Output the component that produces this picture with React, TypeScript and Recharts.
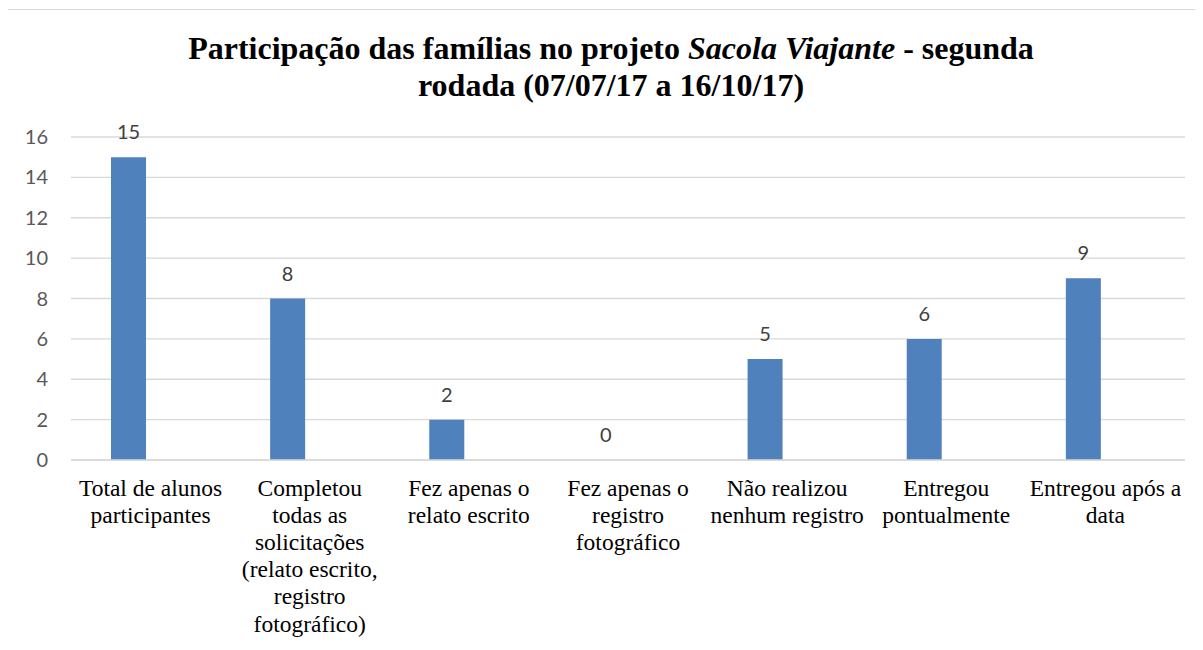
import { Bar, BarChart, CartesianGrid, LabelList, XAxis, YAxis } from "recharts"

// categorias (quebra de linha igual ao gráfico original)
const categories = [
  "Total de alunos participantes",
  "Completou todas as solicitações (relato escrito, registro fotográfico)",
  "Fez apenas o relato escrito",
  "Fez apenas o registro fotográfico",
  "Não realizou nenhum registro",
  "Entregou pontualmente",
  "Entregou após a data",
]

const categoryLines = [
  ["Total de alunos", "participantes"],
  ["Completou", "todas as", "solicitações", "(relato escrito,", "registro", "fotográfico)"],
  ["Fez apenas o", "relato escrito"],
  ["Fez apenas o", "registro", "fotográfico"],
  ["Não realizou", "nenhum registro"],
  ["Entregou", "pontualmente"],
  ["Entregou após a", "data"],
]

const values = [15, 8, 2, 0, 5, 6, 9]
// segunda série vazia da planilha (ocupa espaço ao lado das barras)
const emptySeries = [null, null, null, null, null, null, null]

const yTicks = [0, 2, 4, 6, 8, 10, 12, 14, 16]

const data = categories.map((name, i) => ({
  name,
  value: values[i],
  empty: emptySeries[i],
}))

const sansFont = "Lato, 'Liberation Sans', sans-serif"
const serifFont = "'Liberation Serif', 'Times New Roman', serif"

const CategoryTick = (props: any) => {
  const { x, y, index } = props
  const lines = categoryLines[index] || []
  return (
    <text x={x} y={y} textAnchor="middle" fill="#000" style={{ fontFamily: serifFont, fontSize: 23.5 }}>
      {lines.map((line, i) => (
        <tspan key={i} x={x} y={y + 28 + i * 27.1}>
          {line}
        </tspan>
      ))}
    </text>
  )
}

// rótulo de valor acima da barra (inclui barras com valor 0)
const ValueLabel = (props: any) => {
  const { x, y, width, value } = props
  if (value === null || value === undefined) return null
  return (
    <text
      x={Number(x) + Number(width) / 2}
      y={Number(y) - 18}
      textAnchor="middle"
      fill="#404040"
      style={{ fontFamily: sansFont, fontSize: 20 }}
    >
      {value}
    </text>
  )
}

export default function App() {
  return (
    <div style={{ position: "relative", margin: -8, width: 1203, height: 650, overflow: "hidden", background: "#fff" }}>
      <div
        style={{
          position: "absolute",
          left: 6,
          top: 9,
          width: 1300,
          height: 700,
          borderLeft: "1px solid #d9d9d9",
          borderTop: "1px solid #d9d9d9",
        }}
      />
      <div
        style={{
          position: "absolute",
          left: 0,
          top: 30,
          width: 1222,
          textAlign: "center",
          fontFamily: serifFont,
          fontWeight: "bold",
          fontSize: 32,
          lineHeight: "37px",
          color: "#000",
        }}
      >
        Participação das famílias no projeto <i>Sacola Viajante</i> - segunda
        <br />
        rodada (07/07/17 a 16/10/17)
      </div>
      <div style={{ position: "absolute", left: 0, top: 0 }}>
        <BarChart
          width={1203}
          height={650}
          data={data}
          margin={{ top: 137, right: 18, left: 0, bottom: 0 }}
          barSize={35}
          barGap={10}
        >
          <CartesianGrid vertical={false} stroke="#d9d9d9" strokeWidth={1.3} />
          <XAxis
            dataKey="name"
            height={190}
            interval={0}
            tickLine={false}
            axisLine={{ stroke: "#d9d9d9", strokeWidth: 1.3 }}
            tick={<CategoryTick />}
          />
          <YAxis
            width={71}
            domain={[0, 16]}
            ticks={yTicks}
            tickLine={false}
            axisLine={false}
            tickSize={0}
            tickMargin={23}
            tick={{ fill: "#595959", fontSize: 20, fontFamily: sansFont }}
          />
          <Bar dataKey="value" fill="#4f81bd" minPointSize={0.01} isAnimationActive={false}>
            <LabelList dataKey="value" content={<ValueLabel />} />
          </Bar>
          <Bar dataKey="empty" fill="#c0504d" isAnimationActive={false} />
        </BarChart>
      </div>
    </div>
  )
}
